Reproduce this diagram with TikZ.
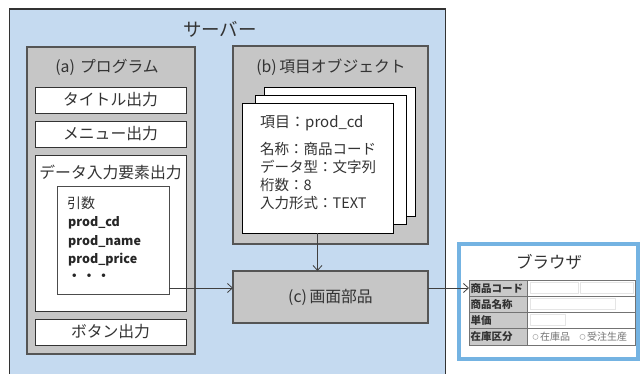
\documentclass[tikz,border=0pt]{standalone}
\usepackage{fontspec}
\setmainfont{Noto Sans CJK JP}
\usetikzlibrary{arrows.meta}
\definecolor{srvblue}{HTML}{C5DAF0}
\definecolor{panelgray}{HTML}{C6C6C6}
\definecolor{edgegray}{HTML}{555555}
\definecolor{txt}{HTML}{333333}
\definecolor{brblue}{HTML}{74B3E2}
\definecolor{cellgray}{HTML}{C9C9C9}
\tikzset{
  box/.style={draw=#1, anchor=north west, inner sep=0pt, outer sep=0pt},
  box/.default=edgegray,
  panel/.style={box, fill=panelgray, line width=1.2pt},
  wbox/.style={box=txt, fill=white, line width=0.9pt},
  card/.style={box=black, fill=white, line width=0.9pt},
  lbl/.style={inner sep=0pt, text=txt, font=\fontsize{15.8}{18}\selectfont},
  cardtxt/.style={inner sep=0pt, anchor=west, text=txt, font=\fontsize{14.5}{17}\selectfont},
  argtxt/.style={inner sep=0pt, anchor=west, text=black!85, font=\bfseries\fontsize{12.5}{15}\selectfont},
  tbl/.style={inner sep=0pt, anchor=west, text=black!80, font=\bfseries\fontsize{10.5}{12}\selectfont},
  radio/.style={inner sep=0pt, anchor=west, text=black!55, font=\fontsize{10}{11}\selectfont},
  conn/.style={draw=black!75, line width=0.8pt, -{Straight Barb[length=5pt,width=9pt]}}
}
\begin{document}
\begin{tikzpicture}[x=1pt,y=-1pt]
\clip (0,0) rectangle (640,374);
\fill[white] (0,0) rectangle (640,374);
% server
\node[box=black!80, fill=srvblue, line width=1.2pt, minimum width=436pt, minimum height=380pt] (server) at (9.5,9) {};
\node[lbl, font=\fontsize{18.5}{20}\selectfont] (servertitle) at (220,29) {サーバー};
% (a) program
\node[panel, minimum width=168pt, minimum height=307pt] (pa) at (27,47) {};
\node[lbl] (patitle) at (107,67) {(a)\,\,プログラム};
\node[wbox, minimum width=151pt, minimum height=26pt] (title) at (35,87) {};
\node[lbl] at (title.center) {タイトル出力};
\node[wbox, minimum width=151pt, minimum height=26pt] (menu) at (35,121) {};
\node[lbl] at (menu.center) {メニュー出力};
\node[wbox, minimum width=151pt, minimum height=156pt] (data) at (35,155) {};
\node[lbl] (datatitle) at (110.5,172) {データ入力要素出力};
\node[box=black!70, fill=white, line width=0.9pt, minimum width=112pt, minimum height=108pt] (args) at (57,186) {};
\node[cardtxt, font=\fontsize{14}{16}\selectfont] (a0) at (67,203) {引数};
\node[argtxt] (a1) at (68,223) {prod\_cd};
\node[argtxt] (a2) at (68,242) {prod\_name};
\node[argtxt] (a3) at (68,260) {prod\_price};
\node[argtxt] (a4) at (68,277) {・\,・\,・};
\node[wbox, minimum width=151pt, minimum height=26pt] (button) at (35,319) {};
\node[lbl] at (button.center) {ボタン出力};
% (b) item object
\node[panel, minimum width=195pt, minimum height=198pt] (pb) at (233,46) {};
\node[lbl] (pbtitle) at (331,67) {(b)\,項目オブジェクト};
\node[card, minimum width=151pt, minimum height=129pt] (card3) at (264,87) {};
\node[card, minimum width=151pt, minimum height=129pt] (card2) at (255,95) {};
\node[card, minimum width=151pt, minimum height=130pt] (card1) at (242,103) {};
\node[cardtxt, font=\fontsize{15}{18}\selectfont] (c0) at (260,123) {項目：prod\_cd};
\node[cardtxt] (c1) at (260,149) {名称：商品コード};
\node[cardtxt] (c2) at (260,167) {データ型：文字列};
\node[cardtxt] (c3) at (260,185) {桁数：8};
\node[cardtxt] (c4) at (260,203) {入力形式：TEXT};
% (c) screen parts
\node[panel, minimum width=195pt, minimum height=52pt] (pc) at (233,271) {};
\node[lbl] at (pc.center) {(c)\,画面部品};
% browser
\node[box=brblue, fill=white, line width=4pt, minimum width=179pt, minimum height=115pt] (browser) at (459,244) {};
\node[lbl, font=\fontsize{16.5}{18}\selectfont] (brtitle) at (549,262) {ブラウザ};
\node[box=black!55, fill=white, line width=0.8pt, minimum width=166pt, minimum height=65pt] (table) at (469,280) {};
\fill[cellgray] (469,280) rectangle (527,345);
% faint input fields
\draw[black!10, line width=0.6pt] (530,282.5) rectangle (578,293.5) (580,282.5) rectangle (633,293.5);
\draw[black!10, line width=0.6pt] (530,298.5) rectangle (615,309.5);
\draw[black!10, line width=0.6pt] (530,314.5) rectangle (565,325.5);
\draw[black!55, line width=0.8pt] (469,280) rectangle (635,345);
\foreach \yy in {296.25,312.5,328.75}{\draw[black!55, line width=0.7pt] (469,\yy) -- (635,\yy);}
\draw[black!55, line width=0.7pt] (527,280) -- (527,345);
\node[tbl] (t1) at (470.5,288.1) {商品コード};
\node[tbl] (t2) at (470.5,304.4) {商品名称};
\node[tbl] (t3) at (470.5,320.6) {単価};
\node[tbl] (t4) at (470.5,336.9) {在庫区分};
\draw[black!30, line width=0.6pt] (535.5,336.9) circle (2.6pt);
\draw[black!30, line width=0.6pt] (582.5,336.9) circle (2.6pt);
\node[radio] (r1) at (540,336.9) {在庫品};
\node[radio] (r2) at (587,336.9) {受注生産};
% connectors
\coordinate (ay) at (0,288);
\draw[conn] (card1.south) -- (card1.south |- pc.north);
\draw[conn] (args.east |- ay) -- (pc.west |- ay);
\draw[conn] (pc.east |- ay) -- (table.west |- ay);
\end{tikzpicture}
\end{document}
